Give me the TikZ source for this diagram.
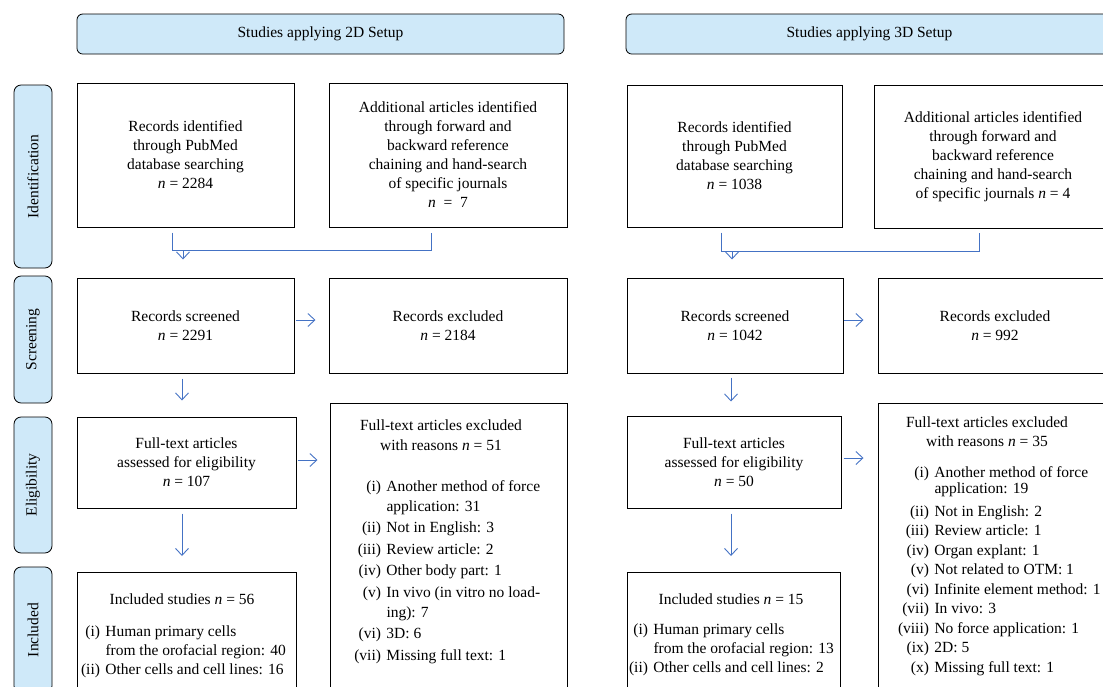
\documentclass[tikz,border=0pt]{standalone}
\usepackage{fontspec}
\setmainfont{Liberation Serif}
\usetikzlibrary{positioning, arrows.meta, calc}
\definecolor{stageblue}{HTML}{CFE9F9}
\definecolor{flowblue}{HTML}{4472C4}
\newcommand{\reason}[3][51pt]{\makebox[#1][r]{#2}\hspace{5.5pt}#3}

\begin{document}
\begin{tikzpicture}[%
		x=1pt, y=-1pt,
		font=\fontsize{15.5}{19}\selectfont,
		setup/.style={
			rectangle,
			rounded corners=2mm,
			fill=stageblue,
			line width=0.8pt,
			minimum width=487pt,
			minimum height=40pt,
			draw
		},
		phase/.style={
			rectangle,
			rounded corners=2.5mm,
			fill=stageblue,
			line width=0.8pt,
			minimum height=38pt,
			rotate=90,
			draw
		},
		record/.style={
			rectangle,
			line width=1pt,
			inner sep=0pt,
			align=center,
			draw
		},
		listbox/.style={
			record,
			anchor=north,
			inner ysep=16pt
		},
		flowline/.style={
			flowblue,
			line width=0.9pt
		},
		flowarrow/.style={
			flowline,
			-{Straight Barb[length=7pt,width=13pt]}
		}]

		\useasboundingbox (0,0) rectangle (1103,686);
		\clip (0,0) rectangle (1103,686);

		% HEADERS AND PHASES

		\node (head-2D) [setup] at (320.5,34) {Studies applying 2D Setup};
		\node (head-3D) [setup] at (869.5,34) {Studies applying 3D Setup};

		\node (ph-id) [phase, minimum width=183pt] at (33,176.5) {Identification};
		\node (ph-scr) [phase, minimum width=127pt] at (33,339.5) {Screening};
		\node (ph-elig) [phase, minimum width=136pt] at (33,485) {Eligibility};
		\node (ph-inc) [phase, minimum width=126pt] at (33,630) {Included};

		% 2D SETUP

		\node (rec-2D) [record, minimum width=217pt, minimum height=144pt] at (185.5,155) {Records identified\\through PubMed\\database searching\\\textit{n} = 2284};
		\node (add-2D) [record, minimum width=238pt, minimum height=144pt] at (448,155) {Additional articles identified\\through forward and\\backward reference\\chaining and hand-search\\of specific journals\\\textit{n}\enspace=\enspace7};
		\node (scr-2D) [record, minimum width=217pt, minimum height=95pt] at (185.5,325.5) {Records screened\\\textit{n} = 2291};
		\node (exc-2D) [record, minimum width=238pt, minimum height=95pt] at (448,325.5) {Records excluded\\\textit{n} = 2184};
		\node (elig-2D) [record, minimum width=219pt, minimum height=91pt] at (186.5,462.5) {Full-text articles\\assessed for eligibility\\\textit{n} = 107};
		\node (ftx-2D) [listbox] at (448.5,403) {\parbox[c][300pt][t]{237pt}{\fontsize{15.5}{20}\selectfont\raggedright
			\makebox[222pt]{Full-text articles excluded}\\
			\makebox[222pt]{with reasons \textit{n} = 51}\\[21pt]
			\reason{(i)}{Another method of force}\\
			\reason{}{application: 31}\\[1.5pt]
			\reason{(ii)}{Not in English: 3}\\[1.5pt]
			\reason{(iii)}{Review article: 2}\\[1.5pt]
			\reason{(iv)}{Other body part: 1}\\[1.5pt]
			\reason{(v)}{In vivo (in vitro no load-}\\
			\reason{}{ing): 7}\\[1.5pt]
			\reason{(vi)}{3D: 6}\\[1.5pt]
			\reason{(vii)}{Missing full text: 1}}};
		\node (inc-2D) [listbox, inner ysep=21pt] at (186.5,572) {\parbox[c][200pt][t]{219pt}{\raggedright
			\makebox[210pt]{Included studies \textit{n} = 56}\\[13pt]
			\reason[23pt]{(i)}{Human primary cells}\\
			\reason[23pt]{}{from the orofacial region: 40}\\
			\reason[23pt]{(ii)}{Other cells and cell lines: 16}}};

		% 3D SETUP

		\node (rec-3D) [record, minimum width=215pt, minimum height=142pt] at (734.5,156) {Records identified\\through PubMed\\database searching\\\textit{n} = 1038};
		\node (add-3D) [record, minimum width=238pt, minimum height=143pt] at (993,156.5) {Additional articles identified\\through forward and\\backward reference\\chaining and hand-search\\of specific journals \textit{n} = 4};
		\node (scr-3D) [record, minimum width=216pt, minimum height=95pt] at (735,325.5) {Records screened\\\textit{n} = 1042};
		\node (exc-3D) [record, minimum width=234pt, minimum height=95pt] at (995,325.5) {Records excluded\\\textit{n} = 992};
		\node (elig-3D) [record, minimum width=214pt, minimum height=92pt] at (734,462) {Full-text articles\\assessed for eligibility\\\textit{n} = 50};
		\node (ftx-3D) [listbox, inner ysep=13pt] at (995,403) {\parbox[c][300pt][t]{234pt}{\fontsize{15.5}{19.5}\selectfont\raggedright
			\makebox[218pt]{Full-text articles excluded}\\
			\makebox[218pt]{with reasons \textit{n} = 35}\\[11pt]
			\reason{(i)}{Another method of force}\\[-3pt]
			\reason{}{application: 19}\\[3pt]
			\reason{(ii)}{Not in English: 2}\\
			\reason{(iii)}{Review article: 1}\\
			\reason{(iv)}{Organ explant: 1}\\
			\reason{(v)}{Not related to OTM: 1}\\
			\reason{(vi)}{Infinite element method: 1}\\
			\reason{(vii)}{In vivo: 3}\\
			\reason{(viii)}{No force application: 1}\\
			\reason{(ix)}{2D: 5}\\
			\reason{(x)}{Missing full text: 1}}};
		\node (inc-3D) [listbox, inner ysep=21pt] at (733.5,572) {\parbox[c][200pt][t]{213pt}{\raggedright
			\makebox[208pt]{Included studies \textit{n} = 15}\\[11pt]
			\reason[21pt]{(i)}{Human primary cells}\\
			\reason[21pt]{}{from the orofacial region: 13}\\
			\reason[21pt]{(ii)}{Other cells and cell lines: 2}}};

		% 2D LINES

		\draw[flowline] ($(rec-2D.south)+(-13.5pt,-5pt)$) |- ($(add-2D.south)+(-17pt,-23pt)$) -- ($(add-2D.south)+(-17pt,-5pt)$);
		\draw[flowarrow] ($(rec-2D.south)+(-2.5pt,-23pt)$) -- ($(rec-2D.south)+(-2.5pt,-32pt)$);
		\draw[flowarrow] ($(scr-2D.east)+(1pt,5.5pt)$) -- ($(scr-2D.east -| exc-2D.west)+(-13pt,5.5pt)$);
		\draw[flowarrow] ($(scr-2D.south)+(-3.5pt,-5pt)$) -- ($(scr-2D.south |- elig-2D.north)+(-3.5pt,16pt)$);
		\draw[flowarrow] ($(elig-2D.east)+(1pt,2.5pt)$) -- ($(elig-2D.east -| ftx-2D.west)+(-12pt,2.5pt)$);
		\draw[flowarrow] ($(elig-2D.south)+(-4.5pt,-5pt)$) -- ($(elig-2D.south |- inc-2D.north)+(-4.5pt,16pt)$);

		% 3D LINES

		\draw[flowline] ($(rec-3D.south)+(-13.5pt,-5pt)$) |- ($(add-3D.south)+(-14pt,-23pt)$) -- ($(add-3D.south)+(-14pt,-4pt)$);
		\draw[flowarrow] ($(rec-3D.south)+(-2.5pt,-24pt)$) -- ($(rec-3D.south)+(-2.5pt,-32pt)$);
		\draw[flowarrow] ($(scr-3D.east)+(0pt,5.5pt)$) -- ($(scr-3D.east -| exc-3D.west)+(-14pt,5.5pt)$);
		\draw[flowarrow] ($(scr-3D.south)+(-4pt,-4pt)$) -- ($(scr-3D.south |- elig-3D.north)+(-4pt,14pt)$);
		\draw[flowarrow] ($(elig-3D.east)+(2pt,4pt)$) -- ($(elig-3D.east -| ftx-3D.west)+(-14pt,4pt)$);
		\draw[flowarrow] ($(elig-3D.south)+(-3pt,-5pt)$) -- ($(elig-3D.south |- inc-3D.north)+(-3pt,16pt)$);
\end{tikzpicture}
\end{document}
